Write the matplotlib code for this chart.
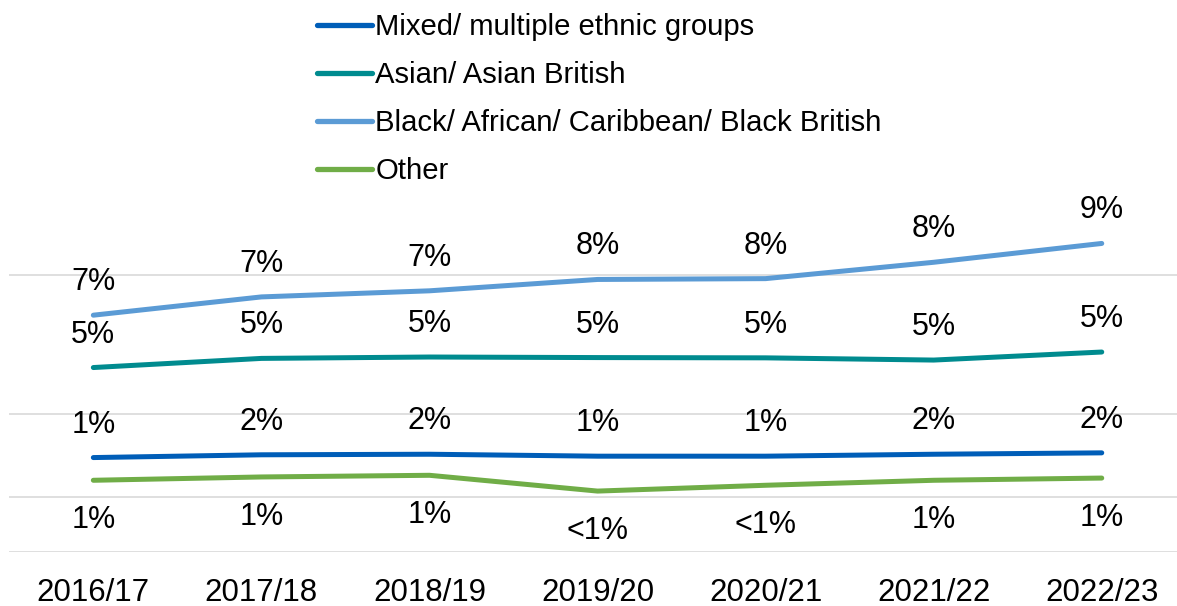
import matplotlib
matplotlib.use("Agg")
import matplotlib.pyplot as plt

plt.rcParams["font.family"] = ["Liberation Sans", "DejaVu Sans"]

# Share of staff by ethnic group (%), per financial year
years = ["2016/17", "2017/18", "2018/19", "2019/20", "2020/21", "2021/22", "2022/23"]
mixed = [1.42, 1.52, 1.54, 1.47, 1.47, 1.54, 1.59]
asian = [4.67, 5.00, 5.05, 5.03, 5.02, 4.94, 5.23]
black = [6.56, 7.22, 7.44, 7.85, 7.88, 8.47, 9.15]
other = [0.60, 0.72, 0.78, 0.21, 0.42, 0.60, 0.68]

series_names = [
    "Mixed/ multiple ethnic groups",
    "Asian/ Asian British",
    "Black/ African/ Caribbean/ Black British",
    "Other",
]
series_values = [mixed, asian, black, other]
series_colors = ["#005EB8", "#008B8F", "#5B9BD5", "#70AD47"]
label_below = [False, False, False, True]

grid_levels = [-2, 0, 3, 8]


def pct_label(v):
    return "<1%" if v < 0.5 else f"{v:.0f}%"


W, H, DPI = 1177, 606, 100
fig = plt.figure(figsize=(W / DPI, H / DPI), dpi=DPI)

# plot area in pixels
left_px, cat_px = 9.3, 168.07
bottom_px = 552.3
y_lo, y_hi, px_per_unit = -2, 11, 27.7
ax_w = cat_px * len(years)
ax_h = (y_hi - y_lo) * px_per_unit
ax = fig.add_axes([left_px / W, (H - bottom_px) / H, ax_w / W, ax_h / H])

x = list(range(len(years)))
for name, vals, col, below in zip(series_names, series_values, series_colors, label_below):
    ax.plot(x, vals, color=col, lw=3.6, solid_capstyle="round",
            solid_joinstyle="round", label=name, zorder=3)
    for xi, v in zip(x, vals):
        ax.annotate(pct_label(v), (xi, v),
                    xytext=(0, -34.3 if below else 18), textcoords="offset points",
                    ha="center", va="baseline", fontsize=22, color="#000000",
                    annotation_clip=False)

ax.set_xlim(-0.5, len(years) - 0.5)
ax.set_ylim(y_lo, y_hi)
ax.set_yticks(grid_levels)
ax.set_yticklabels([])
ax.set_xticks(x)
ax.set_xticklabels(years, fontsize=22.5)
ax.tick_params(axis="both", length=0)
ax.tick_params(axis="x", pad=18.3)
ax.yaxis.grid(True, color="#D9D9D9", lw=1.2)
ax.set_axisbelow(True)
for s in ax.spines.values():
    s.set_visible(False)

leg = ax.legend(loc="upper left", bbox_to_anchor=(316.7 / W, 1 - 13 / H),
                bbox_transform=fig.transFigure, frameon=False, fontsize=21.1,
                handlelength=1.9, handletextpad=0.1, labelspacing=0.68,
                borderpad=0, borderaxespad=0)
for h in leg.get_lines():
    h.set_linewidth(3.8)
    h.set_solid_capstyle("round")

fig.savefig("out.png", dpi=DPI)
